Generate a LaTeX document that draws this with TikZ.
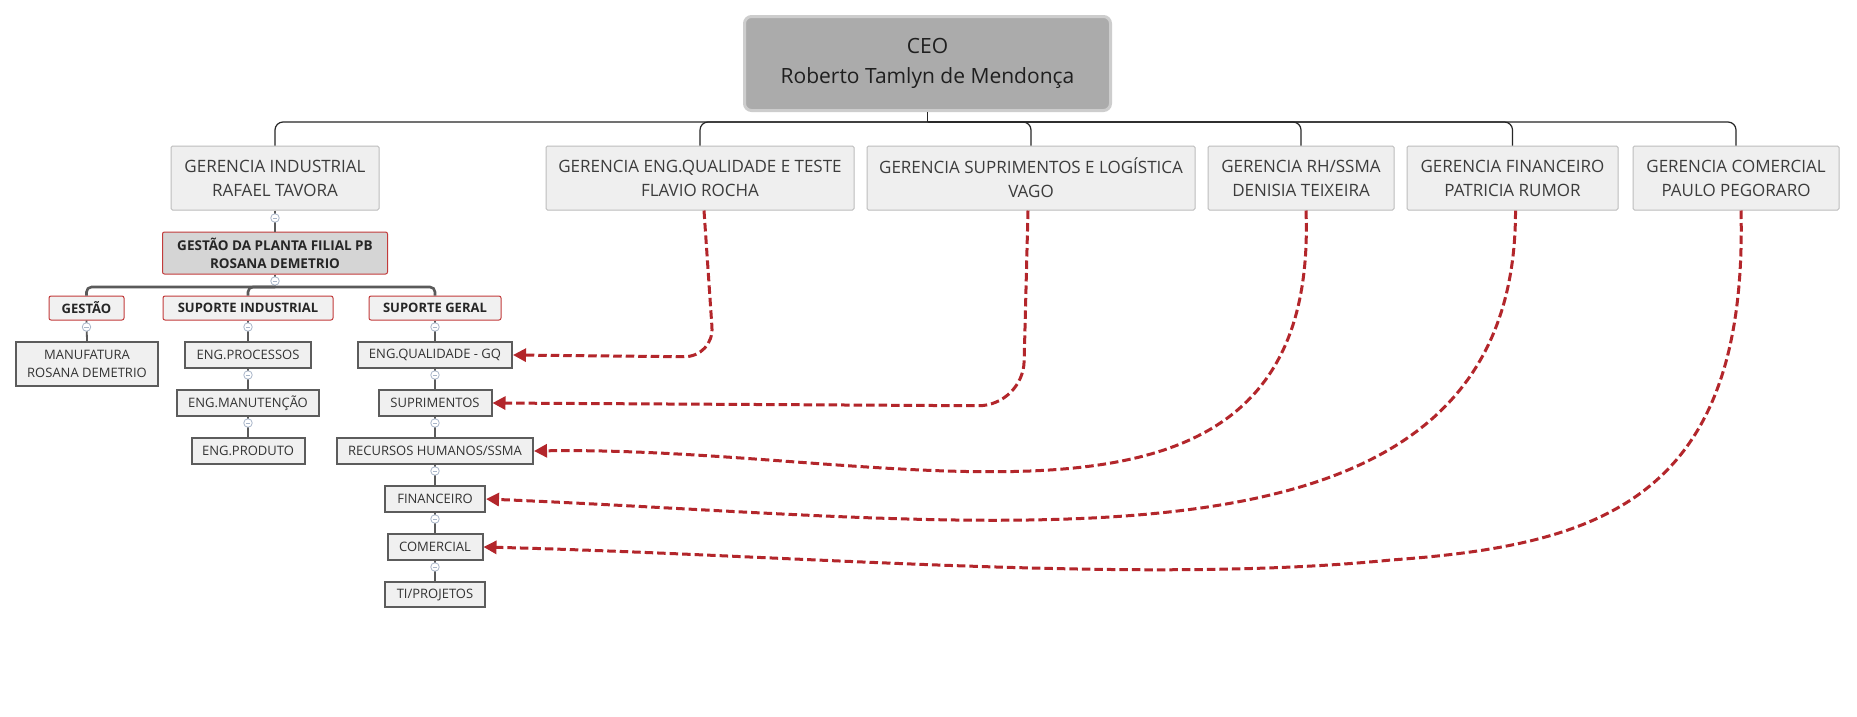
\documentclass[tikz,border=0pt]{standalone}
\usepackage{fontspec}
\setmainfont{Open Sans}
\usetikzlibrary{arrows.meta}
\definecolor{ceofill}{HTML}{ABABAB}
\definecolor{ceoline}{HTML}{CDCDCD}
\definecolor{mgrfill}{HTML}{EFEFEF}
\definecolor{mgrline}{HTML}{BDBDBD}
\definecolor{redline}{HTML}{C23B3B}
\definecolor{subfill}{HTML}{D5D5D5}
\definecolor{hdrfill}{HTML}{F1F1F1}
\definecolor{leafline}{HTML}{5C5C5C}
\definecolor{leaffill}{HTML}{F0F0F0}
\definecolor{conn}{HTML}{5A5A5A}
\definecolor{arr}{HTML}{B3262B}
\definecolor{togline}{HTML}{A9B6C9}
\definecolor{txt}{HTML}{3C3C3C}
\begin{document}
\begin{tikzpicture}[x=1pt,y=-1pt,
 ceobox/.style={draw=ceoline, line width=3pt, fill=ceofill, rounded corners=7pt, minimum width=366pt, minimum height=94pt, inner sep=0pt, align=center, font=\fontsize{21}{30}\selectfont, text=black!88},
 mgr/.style={draw=mgrline, line width=1pt, fill=mgrfill, rounded corners=1.5pt, minimum height=64pt, inner sep=0pt, align=center, font=\fontsize{17}{24}\selectfont, text=txt},
 subbox/.style={draw=redline, line width=1pt, fill=subfill, rounded corners=2pt, minimum width=225pt, minimum height=42pt, inner sep=0pt, align=center, font=\fontsize{13.5}{18}\selectfont\bfseries, text=black!85},
 hdr/.style={draw=redline, line width=1pt, fill=hdrfill, rounded corners=2pt, minimum height=24pt, inner sep=0pt, align=center, font=\fontsize{13}{16}\selectfont\bfseries, text=black!85},
 leaf/.style={draw=leafline, line width=2pt, fill=leaffill, minimum height=26pt, inner sep=0pt, align=center, font=\fontsize{13}{18}\selectfont, text=black!80},
 tog/.style={circle, draw=togline, fill=white, line width=0.8pt, minimum size=8.5pt, inner sep=0pt,
   path picture={\draw[togline, line width=0.8pt] ([xshift=-2.2pt]path picture bounding box.center) -- ([xshift=2.2pt]path picture bounding box.center);}},
 lone/.style={draw=black!85, line width=1.2pt},
 ltwo/.style={draw=conn, line width=1.5pt},
 lbus/.style={draw=conn, line width=2.6pt},
 lleaf/.style={draw=conn, line width=1.8pt},
 dasharrow/.style={draw=arr, line width=3pt, dash pattern=on 8.5pt off 4pt, -{Triangle[length=13pt,width=13pt]}}
]
\fill[white] (0,0) rectangle (1857,716);
\useasboundingbox (0,0) rectangle (1857,716);

% CEO
\node[ceobox] (ceo) at (927.5,63.5) {CEO\\Roberto Tamlyn de Mendonça};

% managers
\node[mgr, minimum width=208pt] (gind) at (275,178) {GERENCIA INDUSTRIAL\\RAFAEL TAVORA};
\node[mgr, minimum width=308pt] (geq) at (700,178) {GERENCIA ENG.QUALIDADE E TESTE\\FLAVIO ROCHA};
\node[mgr, minimum width=328pt] (gsup) at (1031,178) {GERENCIA SUPRIMENTOS E LOGÍSTICA\\VAGO};
\node[mgr, minimum width=186pt] (grh) at (1301,178) {GERENCIA RH/SSMA\\DENISIA TEIXEIRA};
\node[mgr, minimum width=211pt] (gfin) at (1512.5,178) {GERENCIA FINANCEIRO\\PATRICIA RUMOR};
\node[mgr, minimum width=206pt] (gcom) at (1736,178) {GERENCIA COMERCIAL\\PAULO PEGORARO};

% level 1 connectors
\coordinate (bus) at (927.5,122);
\draw[lone] (ceo.south) -- (bus);
\foreach \n in {gind,geq,gsup,grh,gfin,gcom}
  \draw[lone, rounded corners=8pt] (bus) -| (\n.north);

% level 2
\node[subbox] (gpl) at (275,253) {GESTÃO DA PLANTA FILIAL PB\\ROSANA DEMETRIO};
\draw[ltwo] (gind.south) -- (gpl.north);

% level 3 headers
\node[hdr, minimum width=75pt] (hg) at (86.5,308) {GESTÃO};
\node[hdr, minimum width=170pt] (hsi) at (248,308) {SUPORTE INDUSTRIAL};
\node[hdr, minimum width=132pt] (hsg) at (435,308) {SUPORTE GERAL};
\coordinate (bustwo) at (275,287);
\draw[lbus] (gpl.south) -- (bustwo);
\foreach \n in {hg,hsi,hsg}
  \draw[lbus, rounded corners=5pt] (bustwo) -| (\n.north);

% leaves
\node[leaf, minimum width=142pt, minimum height=44pt] (manuf) at (87,364) {MANUFATURA\\ROSANA DEMETRIO};
\node[leaf, minimum width=126pt] (proc) at (248,355) {ENG.PROCESSOS};
\node[leaf, minimum width=142pt] (manut) at (248,403) {ENG.MANUTENÇÃO};
\node[leaf, minimum width=113pt] (prod) at (248,451) {ENG.PRODUTO};
\node[leaf, minimum width=154pt] (eq) at (435,355) {ENG.QUALIDADE - GQ};
\node[leaf, minimum width=113pt] (sup) at (435,403) {SUPRIMENTOS};
\node[leaf, minimum width=196pt] (rec) at (435,451) {RECURSOS HUMANOS/SSMA};
\node[leaf, minimum width=100pt] (fin) at (435,499) {FINANCEIRO};
\node[leaf, minimum width=95pt] (com) at (435,547) {COMERCIAL};
\node[leaf, minimum width=100pt, minimum height=25pt] (ti) at (435,594.5) {TI/PROJETOS};

\draw[lleaf] (hg.south) -- (manuf.north);
\draw[lleaf] (hsi.south) -- (proc.north);
\draw[lleaf] (proc.south) -- (manut.north);
\draw[lleaf] (manut.south) -- (prod.north);
\draw[lleaf] (hsg.south) -- (eq.north);
\draw[lleaf] (eq.south) -- (sup.north);
\draw[lleaf] (sup.south) -- (rec.north);
\draw[lleaf] (rec.south) -- (fin.north);
\draw[lleaf] (fin.south) -- (com.north);
\draw[lleaf] (com.south) -- (ti.north);

% toggles
\node[tog] (t1) at (275,218) {};
\node[tog] (t2) at (275,281) {};
\node[tog] (t3) at (86.5,327) {};
\node[tog] (t4) at (248,327) {};
\node[tog] (t5) at (435,327) {};
\node[tog] (t6) at (248,375) {};
\node[tog] (t7) at (248,423) {};
\node[tog] (t8) at (435,375) {};
\node[tog] (t9) at (435,423) {};
\node[tog] (t10) at (435,471) {};
\node[tog] (t11) at (435,519) {};
\node[tog] (t12) at (435,567) {};

% dashed relation arrows
\draw[dasharrow, rounded corners=30pt] ([xshift=4pt]geq.south) -- (714,357) -- (eq.east);
\draw[dasharrow, rounded corners=45pt] ([xshift=-3pt]gsup.south) -- (1023,406) -- (sup.east);
\draw[dasharrow] ([xshift=5pt]grh.south) .. controls (1320,585) and (900,445) .. (rec.east);
\draw[dasharrow] ([xshift=3pt]gfin.south) .. controls (1516,600) and (1000,520) .. (fin.east);
\draw[dasharrow] ([xshift=5pt]gcom.south) .. controls (1748,500) and (1600,545) .. (1391,560) .. controls (1140,585) and (800,555) .. (com.east);
\end{tikzpicture}
\end{document}
